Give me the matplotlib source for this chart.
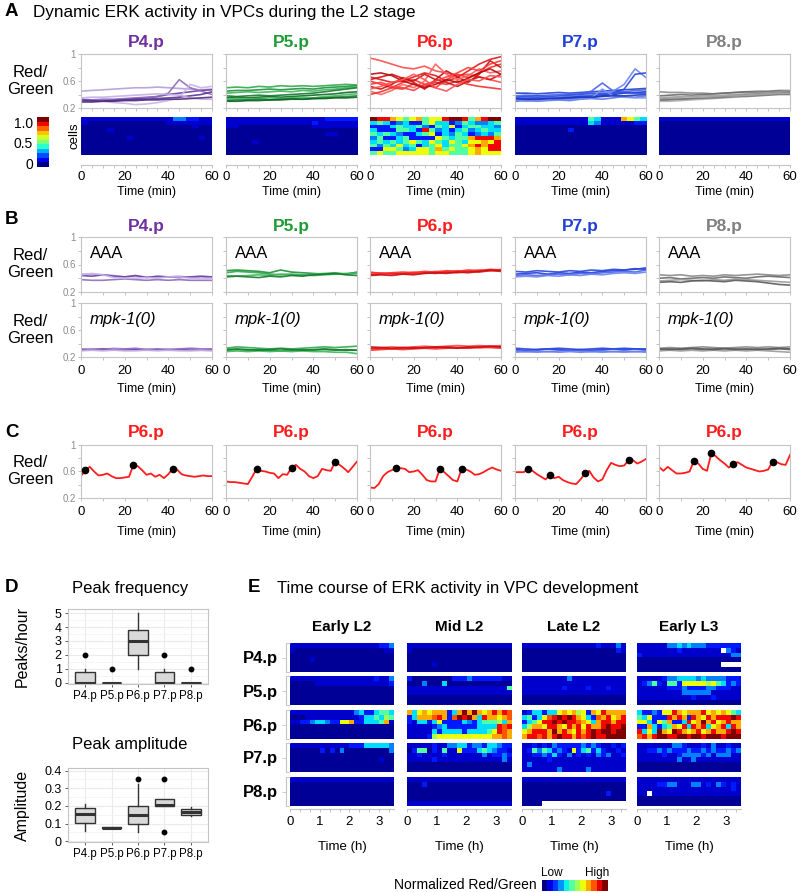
import numpy as np
import matplotlib
matplotlib.use('Agg')
import matplotlib.pyplot as plt
from matplotlib.colors import ListedColormap
from matplotlib.ticker import MultipleLocator

plt.rcParams['font.family'] = ['Liberation Sans', 'DejaVu Sans']
plt.rcParams['axes.linewidth'] = 0.8

# ---------------- data ----------------
cells = ['P4.p', 'P5.p', 'P6.p', 'P7.p', 'P8.p']
cell_colors = ['#7030a0', '#1f9c36', '#ff1c1c', '#1f3fd8', '#808080']
shades = [
    ['#b49ddb', '#6b3fa0', '#8e6cc0', '#c7b5e6', '#5b3391', '#c2aee3', '#4f2d80'],
    ['#2eaa4a', '#1f8f3a', '#3cb85a', '#157a30', '#0f6b27', '#45b860', '#1a8a36', '#0c5e22'],
    ['#ff4a4a', '#e01818', '#ff2a2a', '#c80f0f', '#ff6060', '#f03030', '#d01010', '#ff3a3a', '#b80a0a', '#ff5050'],
    ['#1f3fd8', '#4a64e8', '#6d84ee', '#2a48dc', '#1530b0', '#5a74ea', '#3050e0', '#7a90f0', '#1a36c0'],
    ['#8a8a8a', '#6a6a6a', '#9a9a9a', '#5a5a5a', '#b0b0b0', '#7a7a7a', '#a5a5a5'],
]

time_a = np.arange(0, 61, 5)   # min, panels A/B
time_c = np.arange(0, 61, 2)   # min, panel C

# panel A traces (Red/Green x 100)
a_p4 = [[45, 46, 47, 48, 49, 50, 50, 51, 50, 49, 48, 47, 48],
        [30, 31, 31, 32, 33, 34, 35, 37, 40, 42, 44, 46, 47],
        [33, 32, 33, 33, 34, 35, 36, 37, 42, 62, 50, 45, 40],
        [30, 29, 30, 28, 27, 25, 26, 28, 31, 35, 55, 50, 52],
        [32, 31, 30, 31, 32, 33, 33, 34, 35, 36, 38, 40, 44],
        [35, 36, 36, 37, 38, 39, 40, 41, 40, 39, 35, 33, 33],
        [29, 29, 30, 30, 31, 31, 32, 32, 33, 33, 34, 35, 36]]
a_p5 = [[50, 51, 50, 52, 51, 53, 52, 53, 52, 53, 54, 55, 54],
        [45, 46, 46, 47, 48, 47, 48, 49, 48, 50, 51, 52, 53],
        [42, 43, 44, 43, 44, 45, 44, 46, 45, 47, 48, 50, 51],
        [38, 37, 38, 39, 38, 39, 40, 41, 42, 44, 46, 48, 50],
        [35, 36, 35, 36, 37, 36, 37, 38, 39, 40, 41, 43, 44],
        [33, 34, 33, 34, 35, 34, 35, 36, 35, 37, 38, 40, 41],
        [31, 32, 32, 33, 32, 33, 34, 33, 34, 35, 36, 37, 38],
        [30, 30, 31, 31, 32, 32, 33, 33, 34, 34, 35, 35, 36]]
a_p6 = [[94, 90, 85, 80, 78, 82, 75, 72, 68, 70, 66, 62, 58],
        [66, 62, 58, 60, 66, 72, 68, 60, 65, 75, 85, 92, 96],
        [60, 55, 50, 58, 62, 55, 50, 62, 70, 65, 72, 80, 85],
        [52, 48, 55, 65, 58, 48, 62, 75, 66, 58, 70, 90, 80],
        [45, 40, 46, 55, 50, 60, 85, 70, 62, 68, 78, 72, 75],
        [40, 44, 50, 48, 56, 52, 58, 55, 60, 55, 52, 50, 48],
        [62, 66, 70, 64, 60, 70, 62, 58, 52, 60, 66, 62, 70],
        [55, 58, 52, 50, 46, 55, 60, 66, 72, 80, 75, 85, 90],
        [70, 72, 68, 60, 55, 50, 55, 62, 58, 64, 72, 78, 70],
        [48, 52, 58, 62, 70, 62, 50, 45, 55, 62, 60, 68, 66]]
a_p7 = [[42, 42, 41, 42, 43, 42, 43, 44, 45, 46, 47, 48, 49],
        [38, 39, 38, 39, 40, 40, 41, 45, 57, 45, 44, 46, 47],
        [35, 36, 35, 36, 36, 37, 38, 40, 43, 45, 55, 78, 65],
        [33, 34, 35, 34, 35, 36, 37, 38, 40, 42, 48, 70, 72],
        [31, 32, 32, 33, 33, 34, 35, 36, 38, 40, 42, 43, 44],
        [30, 31, 30, 31, 32, 31, 33, 34, 33, 35, 37, 36, 38],
        [36, 37, 38, 37, 38, 39, 40, 42, 41, 42, 43, 42, 42],
        [32, 30, 31, 32, 33, 33, 34, 35, 48, 38, 36, 35, 35],
        [34, 33, 33, 34, 34, 35, 36, 36, 37, 38, 38, 39, 40]]
a_p8 = [[44, 43, 43, 42, 42, 41, 42, 43, 44, 45, 45, 46, 46],
        [38, 39, 40, 39, 40, 41, 42, 43, 44, 43, 44, 45, 44],
        [34, 35, 36, 37, 38, 38, 39, 40, 41, 42, 43, 44, 45],
        [31, 32, 33, 34, 34, 36, 37, 38, 39, 40, 41, 42, 43],
        [30, 30, 31, 32, 33, 34, 35, 36, 38, 39, 40, 41, 41],
        [32, 33, 33, 34, 35, 35, 36, 37, 37, 38, 39, 40, 40],
        [36, 36, 37, 37, 36, 37, 38, 38, 39, 40, 41, 42, 42]]

# panel B traces (Red/Green x 100)
b_aaa_p4 = [[46, 46, 45, 44, 42, 43, 42, 41, 42, 43, 41, 42, 41],
            [44, 43, 45, 43, 42, 44, 41, 43, 42, 41, 42, 43, 42],
            [38, 37, 37, 38, 39, 38, 37, 38, 37, 38, 37, 37, 37],
            [45, 47, 45, 41, 40, 40, 41, 40, 42, 42, 40, 39, 40]]
b_aaa_p5 = [[48, 50, 49, 48, 46, 45, 46, 45, 44, 45, 46, 47, 47],
            [51, 52, 51, 50, 48, 52, 49, 48, 47, 46, 47, 46, 49],
            [44, 43, 44, 45, 44, 46, 45, 44, 46, 47, 48, 46, 48],
            [42, 43, 42, 41, 43, 42, 44, 43, 45, 46, 47, 45, 44]]
b_aaa_p6 = [[47, 48, 46, 47, 49, 48, 50, 49, 51, 50, 52, 51, 53],
            [45, 46, 47, 46, 47, 48, 47, 49, 48, 50, 49, 51, 50],
            [49, 47, 48, 49, 48, 50, 49, 51, 50, 52, 51, 53, 52],
            [44, 45, 44, 46, 45, 47, 48, 47, 49, 48, 50, 52, 51]]
b_aaa_p7 = [[46, 47, 48, 46, 48, 47, 49, 48, 50, 51, 52, 53, 55],
            [44, 45, 44, 45, 46, 45, 47, 46, 48, 49, 50, 49, 52],
            [42, 43, 42, 44, 43, 45, 44, 46, 45, 47, 48, 47, 49],
            [50, 49, 51, 50, 49, 51, 50, 52, 51, 53, 52, 54, 53]]
b_aaa_p8 = [[45, 44, 45, 43, 44, 43, 45, 44, 45, 46, 45, 44, 45],
            [40, 41, 39, 40, 41, 40, 42, 41, 40, 42, 43, 42, 41],
            [36, 37, 38, 37, 36, 38, 37, 39, 38, 37, 36, 35, 34],
            [34, 35, 34, 36, 37, 36, 35, 37, 36, 35, 33, 31, 30]]
b_mpk_p4 = [[31, 32, 31, 33, 32, 31, 32, 31, 32, 31, 32, 31, 31],
            [30, 31, 32, 31, 30, 31, 30, 31, 30, 31, 30, 30, 30],
            [32, 31, 30, 31, 32, 33, 31, 32, 31, 32, 33, 32, 32],
            [29, 30, 29, 30, 29, 29, 30, 29, 30, 29, 29, 30, 29]]
b_mpk_p5 = [[33, 35, 34, 33, 32, 33, 32, 33, 34, 35, 34, 35, 36],
            [30, 31, 30, 31, 30, 29, 30, 31, 30, 31, 30, 31, 30],
            [28, 29, 28, 29, 28, 29, 28, 29, 28, 28, 27, 27, 25],
            [31, 32, 31, 30, 31, 32, 31, 30, 31, 32, 31, 30, 30]]
b_mpk_p6 = [[33, 34, 35, 34, 35, 36, 35, 36, 37, 36, 37, 36, 37],
            [32, 33, 32, 33, 34, 33, 34, 35, 34, 35, 34, 35, 35],
            [30, 31, 32, 31, 32, 33, 32, 33, 34, 33, 34, 34, 33],
            [35, 34, 33, 34, 33, 34, 35, 34, 33, 34, 35, 36, 35]]
b_mpk_p7 = [[31, 30, 31, 32, 31, 30, 31, 30, 31, 32, 31, 32, 31],
            [29, 28, 29, 28, 29, 30, 29, 28, 29, 28, 29, 28, 29],
            [27, 28, 27, 28, 27, 28, 27, 28, 27, 28, 27, 28, 27],
            [33, 32, 31, 32, 33, 32, 31, 32, 33, 32, 33, 32, 32]]
b_mpk_p8 = [[33, 34, 33, 34, 35, 34, 33, 34, 35, 34, 35, 34, 35],
            [31, 32, 31, 32, 31, 32, 33, 32, 31, 32, 31, 32, 31],
            [29, 30, 29, 30, 29, 30, 29, 30, 29, 30, 29, 28, 27],
            [32, 31, 32, 33, 32, 31, 32, 31, 32, 31, 32, 33, 32]]

# panel C: single P6.p traces (Red/Green x 100) and detected peaks (index into time_c)
c_traces = [
    [53, 62, 67, 60, 54, 55, 57, 53, 50, 50, 51, 52, 70, 68, 62, 55, 57, 52, 55, 50, 56, 64, 63, 56, 54, 53, 52, 53, 54, 53, 53],
    [45, 44, 44, 43, 42, 41, 52, 64, 61, 60, 58, 57, 50, 56, 55, 66, 70, 64, 60, 53, 50, 53, 64, 62, 61, 75, 70, 65, 59, 67, 75],
    [36, 35, 41, 53, 59, 62, 65, 65, 64, 59, 60, 62, 55, 47, 45, 45, 64, 59, 53, 47, 45, 64, 63, 60, 55, 56, 59, 63, 66, 63, 61],
    [59, 59, 59, 64, 61, 56, 52, 48, 55, 50, 52, 47, 44, 42, 41, 48, 57, 61, 51, 45, 48, 62, 73, 70, 68, 69, 77, 77, 72, 75, 79],
    [67, 61, 67, 62, 57, 57, 58, 60, 76, 72, 64, 61, 88, 83, 77, 72, 66, 71, 74, 70, 66, 64, 62, 60, 61, 63, 75, 74, 71, 70, 85],
]
c_peaks = [[1, 12, 21], [7, 15, 25], [6, 16, 21], [3, 8, 16, 26], [8, 12, 17, 26]]

# panel A heatmaps: rows = cells, columns = frames; codes 0..b low..high
LEVELS = '0123456789ab'
LEVEL_VALUES = [0.02, 0.07, 0.15, 0.25, 0.34, 0.45, 0.55, 0.64, 0.73, 0.82, 0.9, 1.0]
heat_a_p4 = ['11111111111111332211', '10000000000001111111', '00000000000000000100',
             '00001000000000000000', '00000000000000000000', '00000001000000000010',
             '00000000000000000000', '00000000000000000000', '00000000000000000000',
             '00000000000000000000']
heat_a_p5 = ['11111111111111122222', '11111111111112111111', '11000000000001111111',
             '00000000000000000000', '00000000000000011000', '00000000000000000000',
             '00001000000000000000', '00000000000000000000', '00000000000000000000',
             '00000000000000000000']
heat_a_p6 = ['baa87578577abba58abb', '45423422574423543345', '22245445325472455443',
             '42225542a53424534544', '54543224572435423435', '3522452222754558aaa8',
             '4545457547547547787a', '5354745245745578a8aa', '227753477585755787aa',
             '57557777757755578777']
heat_a_p7 = ['11111111111541118754', '11111111111431111122', '00000000000000000000',
             '00000000200000000000', '00000000000000000000', '00000000000000000000',
             '00000000000000000000', '00000000000000000000', '00000000000000000000',
             '00000000000000000000']
heat_a_p8 = ['11111111111111111111', '00000000000000000000', '00000000000000000000',
             '00000000000000000000', '00000000000000000000', '00000000000000000000',
             '00000000000000000000', '00000000000000000000', '00000000000000000000',
             '00000000000000000000']

# panel D box statistics
freq_med = [0, 0, 3, 0, 0]
freq_q1 = [0, 0, 2, 0, 0]
freq_q3 = [0.8, 0, 3.8, 0.8, 0]
freq_lo = [0, 0, 1, 0, 0]
freq_hi = [1, 0, 5, 1, 0]
freq_out = [[2], [1], [], [2], [1]]
amp_med = [0.155, 0.075, 0.15, 0.205, 0.165]
amp_q1 = [0.105, 0.072, 0.10, 0.20, 0.15]
amp_q3 = [0.19, 0.078, 0.20, 0.24, 0.185]
amp_lo = [0.06, 0.072, 0.05, 0.20, 0.14]
amp_hi = [0.21, 0.078, 0.325, 0.24, 0.195]
amp_out = [[], [], [0.355], [0.35, 0.05], []]

# panel E heatmaps ('w' = no data)
stages = ['Early L2', 'Mid L2', 'Late L2', 'Early L3']
e_early_l2 = [
    ['111111111111111111223', '100000000000000000011', '000000000000000000000',
     '000010000000000000000', '000000000000000000000', '000000000000000000000'],
    ['111111111111111112113', '000001111111111111112', '000000000000000000000',
     '000000000000000000000', '000000000000000000000', '000000000000000000000'],
    ['111111111111134224554', '000111111111112445465', '112234432277822444581',
     '000000000000000000000', '000000000000000000000', '000000000000000000000'],
    ['111111111111222444443', '000000202030000000003', '000000000000000000000',
     '000000000000000000100', '000000000000000000000', '000000000000000000000'],
    ['111111111111111111111', '000000000000000000000', '000000000000000000000',
     '000000000000000000000', '000000000000000000000', '000000000000000000000'],
]
e_mid_l2 = [
    ['111111111111111111111', '100000000000000000000', '000000000000000000000',
     '000000000000000000000', '000001000000000000000', '000000000000000000000'],
    ['200000000222322222211', '000300040000000000000', '111111111111111111115',
     '111111111111111111111', '000000000000000000000', '000000000000000000000'],
    ['84787888248b8b878a8a9', '248889a829bab84a88789', '214424722224324555648',
     '111112342222224444a9a', '111114244442444457a98', '111126777777777778898'],
    ['111112113344233244322', '025502151172224543221', '112111121111111312232',
     '111112111111111111131', '000000000000000000000', '000000000000000000000'],
    ['111111111111111111111', '000200000000000000000', '000000000000000000000',
     '000000000000000000000', '000000000000000000000', '111111111111111111111'],
]
e_late_l2 = [
    ['111111111111111211131', '000000000000000000021', '000000000000000000000',
     '000000000000000000000', '000000000000000000000', '000000000000000000000'],
    ['111111111311111111111', '111111111111111111111', '111111112111121112111',
     '111111111111111111111', '000000000000000000000', '000000000000000000000'],
    ['1244244787867287a8888', '452479ababa874298a78a', '2457aababaa98748aa8aa',
     '46887aa87a8a7a88abaab', '78aaa8b8a87a8ababbabb', '8aa9a8abaa8a9abaabbbb'],
    ['112121322222323211212', '125354232172452421121', '112232421312121323112',
     '111112111111111111111', '131111111111111111111', '111111131111131111111'],
    ['111111111111111111111', '000000000000000000000', '000000000000000000000',
     '000000000000000002000', '000000000000000000000', '0000wwwwwwwwwwwwwwwww'],
]
e_early_l3 = [
    ['111111334343332222222', '11111111211111111w321', '211111111111111111133',
     '000000000000000000000', '00000000000000000wwww', '000000000000000000000'],
    ['111112334444343333222', '123521552777776754232', '111111222322223322211',
     '111111111333333111111', '111111111112111211111', '000000000000000000000'],
    ['4223277a87888a7878754', '547222a8a82a87a8aaaba', '7742758224a78b8a78a88',
     '228424587a4a8a478a4a8', 'a474b87ba878a78a88aba', '9a8abbaabbabbabbbabbb'],
    ['111111133211121311211', '112232322232232322323', '111112112333323133311',
     '111111113113111111111', '000000000000000000000', '000000000000000000000'],
    ['111111111111111111111', '111122331113312132121', '111111111111111111121',
     '11w111111111111111111', '000000000000000000000', '000000000000000000000'],
]


def decode(rows):
    return np.array([[np.nan if ch == 'w' else LEVEL_VALUES[LEVELS.index(ch)] for ch in r]
                     for r in rows])


# ---------------- figure ----------------
W, H = 800, 892
fig = plt.figure(figsize=(8, 8.92), dpi=100)
jet = plt.get_cmap('jet').copy()
jet.set_bad('white')
GREY = '#c4c4c4'


def px_axes(x0, y0, x1, y1):
    return fig.add_axes([x0 / W, 1 - y1 / H, (x1 - x0) / W, (y1 - y0) / H])


def px_text(x, y, s, **kw):
    kw.setdefault('va', 'center')
    kw.setdefault('ha', 'center')
    fig.text(x / W, 1 - y / H, s, **kw)


def style_trace(ax, first, xlabels, minor=10):
    ax.set_xlim(0, 60)
    ax.set_ylim(0.2, 1)
    for s in ax.spines.values():
        s.set_color(GREY)
        s.set_linewidth(0.8)
    ax.set_yticks([0.2, 0.6, 1.0])
    ax.set_yticks([0.4, 0.8], minor=True)
    ax.set_yticklabels(['0.2', '0.6', '1'] if first else [])
    ax.set_xticks([0, 20, 40, 60])
    ax.xaxis.set_minor_locator(MultipleLocator(minor))
    if not xlabels:
        ax.set_xticklabels([])
    ax.tick_params(which='both', length=2.5, width=0.6, color='#b8b8b8',
                   labelsize=7, labelcolor='#8c8c8c', pad=1)
    ax.tick_params(axis='x', labelsize=9.5, labelcolor='black', pad=3)


x_left = [81, 226, 370, 515, 659]
ax_w = 131

# ----- A -----
px_text(5, 12, 'A', fontsize=13.5, fontweight='bold', ha='left')
px_text(33, 12, 'Dynamic ERK activity in VPCs during the L2 stage', fontsize=12.3, ha='left')
a_sets = [a_p4, a_p5, a_p6, a_p7, a_p8]
a_heats = [heat_a_p4, heat_a_p5, heat_a_p6, heat_a_p7, heat_a_p8]
for i in range(5):
    x0 = x_left[i]
    px_text(x0 + ax_w / 2, 43, cells[i], fontsize=12.5, fontweight='bold', color=cell_colors[i])
    ax = px_axes(x0, 54, x0 + ax_w, 108)
    for k, tr in enumerate(a_sets[i]):
        ax.plot(time_a, np.array(tr) / 100, color=shades[i][k % len(shades[i])], lw=1.2, alpha=0.9)
    style_trace(ax, i == 0, False, minor=5)

    hx = px_axes(x0, 117, x0 + ax_w, 155)
    hx.imshow(decode(a_heats[i]), cmap=jet, vmin=0, vmax=1, aspect='auto',
              interpolation='nearest', extent=(0, 60, 0, 1))
    for side in ['top', 'right', 'left']:
        hx.spines[side].set_visible(False)
    hx.spines['bottom'].set_color(GREY)
    hx.spines['bottom'].set_position(('outward', 7))
    hx.set_xlim(0, 60)
    hx.set_yticks([])
    hx.set_xticks([0, 20, 40, 60])
    hx.xaxis.set_minor_locator(MultipleLocator(5))
    hx.tick_params(which='both', length=2.5, width=0.6, color='#b8b8b8', labelsize=9.5, pad=2)
    px_text(x0 + ax_w / 2, 192, 'Time (min)', fontsize=9)

px_text(30, 81, 'Red/\nGreen', fontsize=12, linespacing=1.1)
px_text(75, 136, 'cells', fontsize=9.5, rotation=90)

# discrete colour key
cb = px_axes(37, 117, 49, 167)
cb.imshow(np.linspace(0, 1, 11)[::-1].reshape(-1, 1), cmap=ListedColormap(jet(np.linspace(0, 1, 11))),
          aspect='auto', extent=(0, 1, 0, 1), interpolation='nearest')
cb.set_xticks([])
cb.set_yticks([0.07, 0.48, 0.9])
cb.set_yticklabels(['0', '0.5', '1.0'])
cb.tick_params(length=0, labelsize=10, pad=3)
for s in cb.spines.values():
    s.set_visible(False)

# ----- B -----
px_text(5, 220, 'B', fontsize=13.5, fontweight='bold', ha='left')
b_aaa = [b_aaa_p4, b_aaa_p5, b_aaa_p6, b_aaa_p7, b_aaa_p8]
b_mpk = [b_mpk_p4, b_mpk_p5, b_mpk_p6, b_mpk_p7, b_mpk_p8]
for i in range(5):
    x0 = x_left[i]
    px_text(x0 + ax_w / 2, 227, cells[i], fontsize=12.5, fontweight='bold', color=cell_colors[i])
    for row, (sets, label, style, y0, y1) in enumerate(
            [(b_aaa, 'AAA', 'normal', 237, 292), (b_mpk, 'mpk-1(0)', 'italic', 303, 357)]):
        ax = px_axes(x0, y0, x0 + ax_w, y1)
        for k, tr in enumerate(sets[i]):
            ax.plot(time_a, np.array(tr) / 100, color=shades[i][k], lw=1.2, alpha=0.9)
        style_trace(ax, i == 0, row == 1)
        ax.text(0.07, 0.7, label, transform=ax.transAxes, fontsize=12, style=style, va='center')
    px_text(x0 + ax_w / 2, 389, 'Time (min)', fontsize=9)
px_text(30, 264, 'Red/\nGreen', fontsize=12, linespacing=1.1)
px_text(30, 330, 'Red/\nGreen', fontsize=12, linespacing=1.1)

# ----- C -----
px_text(5, 432, 'C', fontsize=13.5, fontweight='bold', ha='left')
for i in range(5):
    x0 = x_left[i]
    px_text(x0 + ax_w / 2, 433, 'P6.p', fontsize=12.5, fontweight='bold', color=cell_colors[2])
    ax = px_axes(x0, 445, x0 + ax_w, 498)
    vals = np.array(c_traces[i]) / 100
    ax.plot(time_c, vals, color='#ff1c1c', lw=1.3)
    pk = c_peaks[i]
    ax.plot(time_c[pk], vals[pk], 'o', color='black', ms=4.5, zorder=3)
    style_trace(ax, i == 0, True)
    px_text(x0 + ax_w / 2, 532, 'Time (min)', fontsize=9)
px_text(30, 471, 'Red/\nGreen', fontsize=12, linespacing=1.1)


# ----- D -----
def box_panel(y0, y1, title, ty, ylabel, med, q1, q3, lo, hi, out, ylim, yticks, yticklabels, minor):
    px_text(130, ty, title, fontsize=12)
    ax = px_axes(68, y0, 208, y1)
    stats = [dict(med=med[k], q1=q1[k], q3=q3[k], whislo=lo[k], whishi=hi[k], fliers=out[k])
             for k in range(5)]
    ax.bxp(stats, positions=range(1, 6), widths=0.75, patch_artist=True, showcaps=False,
           boxprops=dict(facecolor='#d9d9d9', edgecolor='#333333', lw=1),
           medianprops=dict(color='#333333', lw=2.2),
           whiskerprops=dict(color='#333333', lw=1),
           flierprops=dict(marker='o', markerfacecolor='black', markeredgecolor='black', markersize=3.2))
    ax.set_xlim(0.35, 5.65)
    ax.set_ylim(*ylim)
    ax.set_xticks(range(1, 6))
    ax.set_xticklabels(cells)
    ax.set_yticks(yticks)
    ax.set_yticklabels(yticklabels)
    ax.yaxis.set_minor_locator(MultipleLocator(minor))
    ax.grid(True, which='major', color='#ebebeb', lw=0.8)
    ax.grid(True, which='minor', axis='y', color='#f4f4f4', lw=0.6)
    ax.set_axisbelow(True)
    for s in ax.spines.values():
        s.set_color(GREY)
    ax.tick_params(which='major', length=2.5, width=0.6, color='#444444', labelsize=9, pad=2)
    ax.tick_params(axis='x', labelsize=8.3)
    ax.tick_params(which='minor', length=0)
    px_text(22, (y0 + y1) / 2, ylabel, fontsize=11.5, rotation=90)


px_text(5, 587, 'D', fontsize=13.5, fontweight='bold', ha='left')
box_panel(609, 684, 'Peak frequency', 588, 'Peaks/hour', freq_med, freq_q1, freq_q3, freq_lo,
          freq_hi, freq_out, (-0.1, 5.3), [0, 1, 2, 3, 4, 5], ['0', '1', '2', '3', '4', '5'], 0.5)
box_panel(768, 842, 'Peak amplitude', 745, 'Amplitude', amp_med, amp_q1, amp_q3, amp_lo,
          amp_hi, amp_out, (-0.005, 0.415), [0, 0.1, 0.2, 0.3, 0.4],
          ['0', '0.1', '0.2', '0.3', '0.4'], 0.05)

# ----- E -----
px_text(248, 588, 'E', fontsize=13.5, fontweight='bold', ha='left')
px_text(277, 588, 'Time course of ERK activity in VPC development', fontsize=12, ha='left')
e_x = [290, 407, 522, 637]
e_w = 104
e_y = [643, 676, 710, 743, 777]
e_h = 29
e_sets = [e_early_l2, e_mid_l2, e_late_l2, e_early_l3]
for c in range(4):
    px_text(e_x[c] + e_w / 2, 627, stages[c], fontsize=11, fontweight='bold')
    for r in range(5):
        ax = px_axes(e_x[c], e_y[r], e_x[c] + e_w, e_y[r] + e_h)
        ax.imshow(decode(e_sets[c][r]), cmap=jet, vmin=0, vmax=1, aspect='auto',
                  interpolation='nearest', extent=(0, 3.5, 0, 1))
        ax.set_xlim(0, 3.5)
        ax.set_ylim(0, 1)
        for s in ax.spines.values():
            s.set_visible(False)
        ax.set_xticks([])
        ax.set_yticks([])
        if c == 0:
            ax.spines['left'].set_visible(True)
            ax.spines['left'].set_color(GREY)
            ax.spines['left'].set_position(('outward', 3))
            ax.set_yticks([0.5])
            ax.set_yticklabels([cells[r]])
            ax.set_yticks([0.0, 1.0], minor=True)
            ax.tick_params(axis='y', which='major', length=3, width=0.6, color=GREY,
                           labelsize=12, pad=3)
            ax.tick_params(axis='y', which='minor', direction='in', length=3, width=0.6, color=GREY)
            for t in ax.get_yticklabels():
                t.set_fontweight('bold')
        if r == 4:
            ax.spines['bottom'].set_visible(True)
            ax.spines['bottom'].set_color(GREY)
            ax.spines['bottom'].set_position(('outward', 2))
            ax.set_xticks([0, 1, 2, 3])
            ax.xaxis.set_minor_locator(MultipleLocator(1 / 3))
            ax.tick_params(axis='x', which='both', length=2.5, width=0.6, color='#b8b8b8',
                           labelsize=9.5, pad=3)
    px_text(e_x[c] + e_w / 2, 847, 'Time (h)', fontsize=9.5)

px_text(537, 885, 'Normalized Red/Green', fontsize=10, ha='right')
px_text(552, 873, 'Low', fontsize=8.5)
px_text(597, 873, 'High', fontsize=8.5)
kb = px_axes(542, 880, 608, 891)
kb.imshow(np.linspace(0, 1, 12).reshape(1, -1), cmap=ListedColormap(jet(np.linspace(0, 1, 12))),
          aspect='auto', interpolation='nearest')
kb.set_axis_off()

fig.savefig('out.png', dpi=100)
